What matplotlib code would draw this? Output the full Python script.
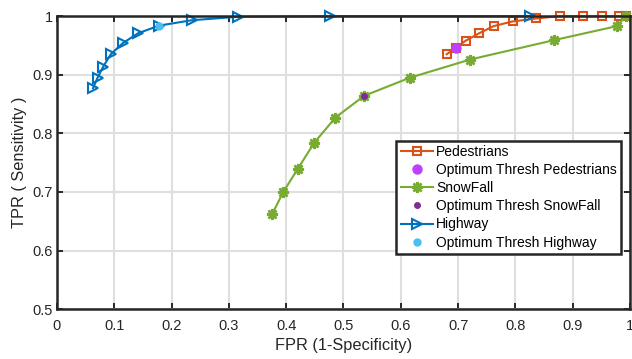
import matplotlib
matplotlib.use("Agg")
import matplotlib.pyplot as plt

plt.rcParams["font.family"] = ["Liberation Sans", "DejaVu Sans"]

# Pedestrians ROC
ped_fpr = [0.680, 0.696, 0.713, 0.737, 0.762, 0.795, 0.836, 0.877, 0.918, 0.951, 0.980, 0.992]
ped_tpr = [0.935, 0.946, 0.958, 0.971, 0.983, 0.991, 0.996, 1.000, 1.000, 1.000, 1.000, 1.000]
ped_opt = (0.696, 0.946)

# SnowFall ROC
snow_fpr = [0.376, 0.395, 0.420, 0.449, 0.486, 0.536, 0.616, 0.721, 0.867, 0.977, 0.992]
snow_tpr = [0.663, 0.700, 0.739, 0.784, 0.827, 0.864, 0.895, 0.926, 0.959, 0.983, 1.000]
snow_opt = (0.536, 0.864)

# Highway ROC
hw_fpr = [0.063, 0.071, 0.081, 0.094, 0.115, 0.142, 0.179, 0.235, 0.316, 0.476, 0.825]
hw_tpr = [0.877, 0.895, 0.914, 0.935, 0.954, 0.971, 0.984, 0.993, 0.999, 1.000, 1.000]
hw_opt = (0.179, 0.984)

c_ped = "#D95319"
c_snow = "#77AC30"
c_hw = "#0072BD"
dark = "#262626"
asterisk = (8, 2, 0)  # plus + cross, like matlab '*'

fig = plt.figure(figsize=(6.32, 3.59), dpi=100)
ax = fig.add_axes([0.090, 0.139, 0.907, 0.816])

ax.plot(ped_fpr, ped_tpr, "-s", color=c_ped, lw=1.5, ms=5.5, mfc="none", mew=1.5,
        clip_on=False, label="Pedestrians")
ax.plot(*ped_opt, "o", color="#BF40FF", ms=6.5, clip_on=False,
        label="Optimum Thresh Pedestrians")
ax.plot(snow_fpr, snow_tpr, "-", marker=asterisk, color=c_snow, lw=1.5, ms=8, mew=1.8,
        clip_on=False, label="SnowFall")
ax.plot(*snow_opt, "o", color="#7E2F8E", ms=4, clip_on=False,
        label="Optimum Thresh SnowFall")
ax.plot(hw_fpr, hw_tpr, "->", color=c_hw, lw=1.5, ms=7, mfc="none", mew=1.5,
        clip_on=False, label="Highway")
ax.plot(*hw_opt, "o", color="#4DBEEE", ms=5, clip_on=False,
        label="Optimum Thresh Highway")

ax.set_xlim(0, 1)
ax.set_ylim(0.5, 1)
ax.set_xticks([i / 10 for i in range(11)])
ax.set_xticklabels(["0", "0.1", "0.2", "0.3", "0.4", "0.5", "0.6", "0.7", "0.8", "0.9", "1"])
ax.set_yticks([0.5, 0.6, 0.7, 0.8, 0.9, 1.0])
ax.set_yticklabels(["0.5", "0.6", "0.7", "0.8", "0.9", "1"])
ax.grid(True, color="#DFDFDF", lw=1.5)
ax.set_axisbelow(True)
ax.tick_params(direction="in", top=True, right=True, length=4, width=1.4,
               color=dark, labelsize=10.5, labelcolor=dark)
ax.tick_params(axis="x", pad=7)
ax.tick_params(axis="y", pad=3)
for s in ax.spines.values():
    s.set_linewidth(1.8)
    s.set_color(dark)

ax.set_xlabel("FPR (1-Specificity)", fontsize=11.8, color=dark, labelpad=4)
ax.set_ylabel("TPR ( Sensitivity )", fontsize=11.8, color=dark, labelpad=4)

leg = ax.legend(loc="upper right", bbox_to_anchor=(0.984, 0.575), borderaxespad=0,
                fontsize=10, fancybox=False, framealpha=1, handlelength=2.3,
                handletextpad=0.25, labelspacing=0.3, borderpad=0.3)
leg.get_frame().set_edgecolor(dark)
leg.get_frame().set_linewidth(1.8)

fig.savefig("out.png", dpi=100)
